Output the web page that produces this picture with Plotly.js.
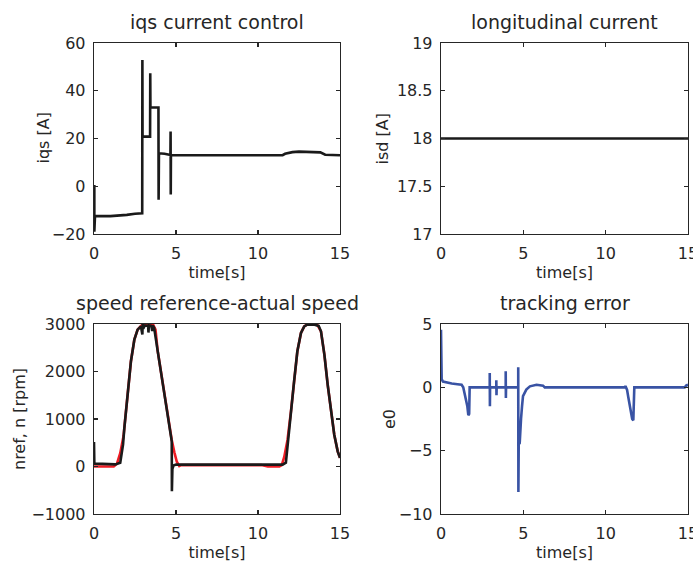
<!DOCTYPE html>
<html>
<head>
<meta charset="utf-8">
<script src="https://cdn.plot.ly/plotly-3.0.1.min.js"></script>
<style>html,body{margin:0;padding:0;background:#fff;}#chart{width:693px;height:566px;}</style>
</head>
<body>
<div id="chart"></div>
<script>
// ---- data ----
const tIqs = [0, 0.02, 0.02, 0.06, 1.0, 1.5, 2.0, 2.5, 2.94, 2.95, 2.96, 3.42, 3.43, 3.44, 3.93, 3.94, 3.96, 4.3, 4.66, 4.67, 4.68, 4.69, 5.5, 11.5, 11.65, 11.8, 12.1, 12.5, 13.5, 13.8, 14.1, 15];
const vIqs = [0, 0, -19, -12.5, -12.5, -12.3, -12, -11.5, -11.3, 52.9, 20.8, 20.8, 47.3, 33, 33, -5.7, 13.8, 13.6, 13.1, 22.9, -3.5, 13, 13, 13, 13.6, 13.8, 14.3, 14.5, 14.5, 14.2, 13.2, 13];

const tIsd = [0, 15];
const vIsd = [18, 18];

const tNref = [0, 1.2, 1.4, 1.6, 1.8, 2.05, 2.25, 2.46, 2.66, 2.86, 3.0, 3.6, 3.75, 3.88, 4.08, 4.28, 4.48, 4.74, 4.9, 5.05, 5.2, 5.3, 10.2, 10.6, 11.3, 11.45, 11.6, 11.8, 12.01, 12.2, 12.4, 12.62, 12.82, 13.0, 13.6, 13.84, 14.05, 14.25, 14.45, 14.65, 14.86, 15];
const vNref = [0, 0, 60, 280, 640, 1510, 2210, 2670, 2880, 2960, 2990, 2990, 2880, 2440, 1995, 1550, 1110, 560, 300, 100, 10, 30, 30, 0, 0, 30, 200, 560, 1160, 1790, 2425, 2810, 2950, 2990, 2990, 2845, 2350, 1720, 1160, 670, 320, 180];

const tN = [0, 0.02, 0.5, 1.0, 1.3, 1.6, 1.77, 1.85, 2.05, 2.25, 2.46, 2.66, 2.86, 2.95, 2.97, 3.0, 3.1, 3.3, 3.32, 3.35, 3.5, 3.55, 3.58, 3.67, 3.88, 4.08, 4.28, 4.48, 4.74, 4.75, 4.78, 4.85, 5.0, 8, 11.5, 11.7, 11.8, 12.01, 12.2, 12.4, 12.62, 12.82, 13.0, 13.4, 13.7, 13.84, 14.05, 14.25, 14.45, 14.65, 14.86, 15];
const vN = [515, 60, 55, 40, 45, 80, 460, 810, 1510, 2210, 2670, 2880, 2950, 2780, 3050, 2900, 2970, 2960, 2820, 2970, 2960, 2850, 2970, 2915, 2440, 1995, 1550, 1110, 530, -520, -50, 20, 40, 40, 40, 80, 450, 1160, 1790, 2425, 2810, 2950, 2985, 2990, 2960, 2845, 2350, 1720, 1160, 670, 320, 180];

const tErr = [0, 0.01, 0.04, 0.12, 0.4, 0.65, 1.0, 1.25, 1.35, 1.45, 1.55, 1.6, 1.66, 1.71, 1.74, 2.96, 2.96, 2.97, 2.98, 3.36, 3.36, 3.37, 3.38, 3.93, 3.93, 3.94, 3.95, 4.69, 4.69, 4.70, 4.72, 4.78, 4.81, 4.86, 4.92, 4.98, 5.18, 5.4, 5.8, 6.2, 6.3, 11.17, 11.2, 11.3, 11.37, 11.5, 11.61, 11.68, 11.72, 11.74, 14.8, 14.9, 15];
const vErr = [4.55, 0.9, 0.65, 0.45, 0.35, 0.3, 0.25, 0.2, 0, -0.6, -1.3, -1.5, -2.2, -2.1, 0, 0, 1.13, -1.5, 0, 0, 0.56, -0.63, 0, 0, 1.26, -0.84, 0, 0, 1.58, -8.26, -4.5, -4.4, -2.8, -2.5, -1.5, -0.7, -0.18, 0.08, 0.2, 0.13, 0, 0, 0.1, -0.2, -0.74, -1.79, -2.5, -2.6, -1.5, 0, 0, 0.15, 0.2];

const subTitles = ['iqs current control', 'longitudinal current', 'speed reference-actual speed', 'tracking error'];
const xTitle = 'time[s]';
const yTitles = ['iqs [A]', 'isd [A]', 'nref, n [rpm]', 'e0'];

// ---- layout ----
const W = 693, H = 566;
const colL = [94 / W, 340 / W];
const colR = [441 / W, 688 / W];
const rowT = [1 - 234 / H, 1 - 43 / H];
const rowB = [1 - 514 / H, 1 - 324 / H];
const ink = '#262626';
const FONT = 'DejaVu Sans';

function xax(dom, anchor) {
  return {
    domain: dom, anchor: anchor, range: [0, 15], tickvals: [0, 5, 10, 15],
    showline: true, mirror: 'ticks', linecolor: ink, linewidth: 1.3,
    ticks: 'inside', ticklen: 4, tickwidth: 1.2, tickcolor: ink,
    showgrid: false, zeroline: false, ticklabelstandoff: 4, ticklabeloverflow: 'allow',
    tickfont: {family: FONT, size: 16, color: ink},
    title: {text: xTitle, font: {family: FONT, size: 16, color: ink}, standoff: 5}
  };
}
function yax(dom, anchor, range, ticks) {
  return {
    domain: dom, anchor: anchor, range: range, tickvals: ticks,
    showline: true, mirror: 'ticks', linecolor: ink, linewidth: 1.3,
    ticks: 'inside', ticklen: 4, tickwidth: 1.2, tickcolor: ink,
    showgrid: false, zeroline: false, ticklabelstandoff: 4, ticklabeloverflow: 'allow',
    tickfont: {family: FONT, size: 16, color: ink}
  };
}

const data = [
  {x: tIqs, y: vIqs, xaxis: 'x', yaxis: 'y', mode: 'lines', line: {color: '#1a1a1a', width: 2.6}},
  {x: tIsd, y: vIsd, xaxis: 'x2', yaxis: 'y2', mode: 'lines', line: {color: '#1a1a1a', width: 2.6}},
  {x: tNref, y: vNref, xaxis: 'x3', yaxis: 'y3', mode: 'lines', line: {color: '#ee1c24', width: 2.6}},
  {x: tN, y: vN, xaxis: 'x3', yaxis: 'y3', mode: 'lines', line: {color: '#1a1a1a', width: 2.6}},
  {x: tErr, y: vErr, xaxis: 'x4', yaxis: 'y4', mode: 'lines', line: {color: '#3953a4', width: 2.6}}
];

const titleY = [1 - 22 / H, 1 - 22 / H, 1 - 303 / H, 1 - 303 / H];
const titleX = [(colL[0] + colL[1]) / 2, (colR[0] + colR[1]) / 2, (colL[0] + colL[1]) / 2, (colR[0] + colR[1]) / 2];
const annotations = subTitles.map((t, i) => ({
  text: t, xref: 'paper', yref: 'paper', x: titleX[i], y: titleY[i],
  xanchor: 'center', yanchor: 'middle', showarrow: false,
  font: {family: FONT, size: 19, color: ink}
}));
// y-axis titles (rotated)
const yTitleX = [43 / W, 382 / W, 20 / W, 390 / W];
const yTitleY = [(rowT[0] + rowT[1]) / 2, (rowT[0] + rowT[1]) / 2, (rowB[0] + rowB[1]) / 2, (rowB[0] + rowB[1]) / 2];
yTitles.forEach((t, i) => annotations.push({
  text: t, xref: 'paper', yref: 'paper', x: yTitleX[i], y: yTitleY[i],
  xanchor: 'center', yanchor: 'middle', textangle: -90, showarrow: false,
  font: {family: FONT, size: 16, color: ink}
}));

const layout = {
  width: W, height: H, margin: {l: 0, r: 0, t: 0, b: 0},
  paper_bgcolor: '#fff', plot_bgcolor: '#fff', showlegend: false,
  xaxis: xax(colL, 'y'), yaxis: yax(rowT, 'x', [-20, 60], [-20, 0, 20, 40, 60]),
  xaxis2: xax(colR, 'y2'), yaxis2: yax(rowT, 'x2', [17, 19], [17, 17.5, 18, 18.5, 19]),
  xaxis3: xax(colL, 'y3'), yaxis3: yax(rowB, 'x3', [-1000, 3000], [-1000, 0, 1000, 2000, 3000]),
  xaxis4: xax(colR, 'y4'), yaxis4: yax(rowB, 'x4', [-10, 5], [-10, -5, 0, 5]),
  annotations: annotations
};

Plotly.newPlot('chart', data, layout, {staticPlot: true, displayModeBar: false});
</script>
</body>
</html>
